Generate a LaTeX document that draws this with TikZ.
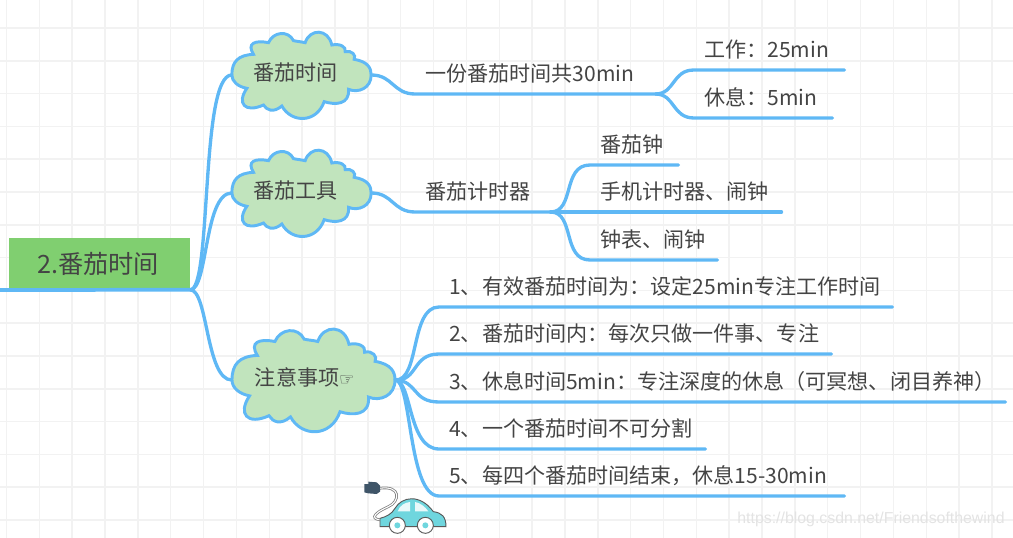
\documentclass[tikz,border=0pt]{standalone}
\usepackage{fontspec}
\setmainfont{Noto Sans CJK SC}
\newfontfamily\symfont{DejaVu Sans}
\newfontfamily\markfont{Liberation Sans}
\definecolor{branchblue}{HTML}{5FB8F5}
\definecolor{rootgreen}{HTML}{80CF70}
\definecolor{cloudgreen}{HTML}{C1E4BD}
\definecolor{inkgrey}{HTML}{444444}
\definecolor{gridgrey}{HTML}{F2F2F2}
\definecolor{carteal}{HTML}{6FD6DE}
\definecolor{plugslate}{HTML}{3F5568}
\tikzset{
  branch/.style={draw=branchblue, line width=2.5pt, line cap=round},
  rootbox/.style={fill=rootgreen, text=inkgrey, font=\fontsize{18.9}{20}\selectfont, minimum width=135.75pt, minimum height=38.25pt, inner sep=0pt},
  cloudtext/.style={text=inkgrey, font=\fontsize{15.8}{18}\selectfont, minimum width=104.25pt, minimum height=64.5pt, inner sep=0pt, text depth=5pt},
  leaf/.style={text=inkgrey, font=\fontsize{15.8}{18}\selectfont, anchor=south west, inner xsep=0pt, inner ysep=7.6pt, align=left, text width=#1*0.75pt, execute at begin node=\hspace*{7.5pt}},
  pics/cloudshape/.style={code={
    \draw[draw=branchblue, fill=cloudgreen, line width=2.2pt, x=0.25pt, y=-0.25pt]
      (-209,0) .. controls (-209,-40) and (-190,-60) .. (-144,-62)
      .. controls (-165,-95) and (-140,-105) .. (-99,-97)
      .. controls (-85,-130) and (-40,-135) .. (-24,-103)
      .. controls (-10,-100) and (0,-100) .. (11,-97)
      .. controls (25,-140) and (80,-140) .. (91,-90)
      .. controls (115,-95) and (135,-85) .. (131,-70)
      .. controls (150,-75) and (165,-60) .. (158,-47)
      .. controls (200,-40) and (209,-20) .. (209,0)
      .. controls (209,40) and (170,55) .. (141,43)
      .. controls (145,90) and (100,90) .. (68,80)
      .. controls (45,145) and (-30,145) .. (-59,93)
      .. controls (-85,115) and (-105,105) .. (-114,90)
      .. controls (-170,115) and (-195,85) .. (-164,40)
      .. controls (-190,35) and (-209,20) .. (-209,0) -- cycle;
  }}
}
\begin{document}
\begin{tikzpicture}[x=0.75pt, y=-0.75pt]
\useasboundingbox (0,0) rectangle (1013,538);
% Draw the paper grid
\foreach \gx in {0,...,30} {
  \draw[gridgrey, line width=1.1pt] ({6.5+32.85*\gx},0) -- ({6.5+32.85*\gx},538);
}
\foreach \gy in {0,...,15} {
  \draw[gridgrey, line width=1.1pt] (0,{28+32.8*\gy}) -- (1013,{28+32.8*\gy});
}

% Root topic
\node[rootbox] (root) at (99.5,264) {2.番茄时间\hspace*{2pt}};
\coordinate (rootstart) at (0,290);

% Clouds
\pic at (301.5,75) {cloudshape};
\node[cloudtext] (tomatotime) at (301.5,75) {番茄时间\hspace*{9pt}};
\pic at (301.5,193) {cloudshape};
\node[cloudtext] (tomatotools) at (301.5,193) {番茄工具\hspace*{9pt}};
\pic[xscale=1.17, yscale=1.19] at (313.5,380) {cloudshape};
\node[cloudtext, minimum width=122.25pt, minimum height=76.5pt] (notes) at (313.5,380) {注意事项{\symfont\fontsize{13}{12}\selectfont ☞}\hspace*{13pt}};

% First branch labels
\node[leaf=240] (onetomato) at (415,94) {一份番茄时间共30min};
\node[leaf=150] (worktime) at (694,70) {工作：25min};
\node[leaf=138] (resttime) at (694,118) {休息：5min};

% Second branch labels
\node[leaf=135] (timer) at (415,212) {番茄计时器};
\node[leaf=88] (tomatoclock) at (590,165) {番茄钟};
\node[leaf=191] (phonetimer) at (590,212) {手机计时器、闹钟};
\node[leaf=127] (watchclock) at (590,260) {钟表、闹钟};

% Third branch labels
\node[leaf=453] (noteone) at (439,307) {1、有效番茄时间为：设定25min专注工作时间};
\node[leaf=392] (notetwo) at (439,354) {2、番茄时间内：每次只做一件事、专注};
\node[leaf=566] (notethree) at (439,402) {3、休息时间5min：专注深度的休息（可冥想、闭目养神）};
\node[leaf=266] (notefour) at (439,449) {4、一个番茄时间不可分割};
\node[leaf=405] (notefive) at (439,496) {5、每四个番茄时间结束，休息15-30min};

% Root connectors
\draw[branch, line width=2.8pt] (rootstart) -- (root.south east);
\draw[branch] (root.south east) .. controls (212,290) and (200,75) .. (tomatotime.west);
\draw[branch] (root.south east) .. controls (208,290) and (204,193) .. (tomatotools.west);
\draw[branch] (root.south east) .. controls (208,290) and (206,380) .. (notes.west);

% First branch
\draw[branch] (tomatotime.east) .. controls (393,75) and (393,94) .. (onetomato.south west) -- (onetomato.south east);
\draw[branch] (onetomato.south east) .. controls (675,94) and (672,70) .. (worktime.south west) -- (worktime.south east);
\draw[branch] (onetomato.south east) .. controls (675,94) and (672,118) .. (resttime.south west) -- (resttime.south east);

% Second branch
\draw[branch] (tomatotools.east) .. controls (393,193) and (393,212) .. (timer.south west) -- (timer.south east);
\draw[branch] (timer.south east) .. controls (575,212) and (562,165) .. (tomatoclock.south west) -- (tomatoclock.south east);
\draw[branch] (timer.south east) -- (phonetimer.south west) -- (phonetimer.south east);
\draw[branch] (timer.south east) .. controls (575,212) and (562,260) .. (watchclock.south west) -- (watchclock.south east);

% Third branch
\draw[branch] (notes.east) .. controls (420,381) and (410,307) .. (noteone.south west) -- (noteone.south east);
\draw[branch] (notes.east) .. controls (418,381) and (412,354) .. (notetwo.south west) -- (notetwo.south east);
\draw[branch] (notes.east) .. controls (418,381) and (412,402) .. (notethree.south west) -- (notethree.south east);
\draw[branch] (notes.east) .. controls (412,381) and (408,449) .. (notefour.south west) -- (notefour.south east);
\draw[branch] (notes.east) .. controls (412,381) and (408,496) .. (notefive.south west) -- (notefive.south east);

% Toy car with a plug
\begin{scope}[shift={(220,320)}, x=0.25pt, y=-0.25pt]
\draw[gray, line width=2pt, line cap=round] (478,505) .. controls (545,495) and (540,545) .. (505,560) .. controls (450,585) and (455,600) .. (490,600);
\draw[white, line width=0.8pt, line cap=round] (478,505) .. controls (545,495) and (540,545) .. (505,560) .. controls (450,585) and (455,600) .. (490,600);
\fill[plugslate] (433,492) -- (445,492) -- (445,485) -- (470,487) -- (480,497) -- (480,515) -- (470,522) -- (445,520) -- (433,517) -- cycle;
\draw[gray!70!black, fill=carteal, line width=0.7pt] (480,620) -- (480,595) .. controls (500,590) and (515,582) .. (525,565) .. controls (545,530) and (600,520) .. (640,575) .. controls (665,578) and (678,590) .. (678,620) -- cycle;
\fill[white!85!carteal] (533,574) .. controls (540,555) and (555,548) .. (570,546) -- (570,574) -- cycle;
\fill[white!85!carteal] (585,546) .. controls (600,548) and (615,560) .. (625,574) -- (585,574) -- cycle;
\foreach \wx in {532,616} {
  \draw[gray!70!black, fill=white, line width=0.7pt] (\wx,616) circle (24);
  \fill[carteal] (\wx,616) circle (9);
}
\end{scope}

% Watermark
\node[text=black!11, font=\markfont\fontsize{11.9}{13}\selectfont, inner sep=0pt] (watermark) at (871,519) {https://blog.csdn.net/Friendsofthewind};
\end{tikzpicture}
\end{document}
